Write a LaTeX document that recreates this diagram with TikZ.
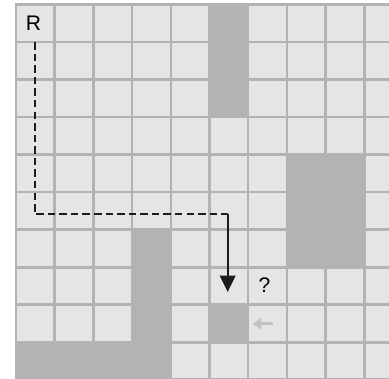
\documentclass[tikz,border=0pt]{standalone}
\usepackage{fontspec}
\setmainfont{Liberation Sans}
\usetikzlibrary{arrows.meta}
\definecolor{cellgray}{HTML}{E5E5E5}
\definecolor{wallgray}{HTML}{B3B3B3}
\definecolor{hintgray}{HTML}{C2C2C2}
\definecolor{pathblack}{HTML}{1C1C1C}

\begin{document}
\begin{tikzpicture}[x=1cm, y=-0.969cm,
    cellbox/.style={fill=cellgray, draw=wallgray, line width=1.9pt},
    wall/.style={fill=wallgray, draw=wallgray, line width=1.9pt},
    lbl/.style={font=\fontsize{15.5}{18}\selectfont, text=black, inner sep=0pt},
    route/.style={pathblack, line width=1.5pt, dash pattern=on 5.5pt off 3pt},
    move/.style={-{Triangle[length=4.2mm, width=4mm]}, pathblack, line width=1.5pt},
    hint/.style={-{Triangle[length=2.2mm, width=3mm]}, hintgray, line width=2pt}]

    \useasboundingbox (-0.413,-0.125) rectangle (9.638,9.98);
    \clip (-0.413,-0.125) rectangle (9.638,9.98);

    % Grid
    \foreach \c in {0,...,9} {
        \foreach \r in {0,...,9} {
            \draw[cellbox] (\c,\r) rectangle ++(1,1);
        }
    }

    % Walls
    \filldraw[wall] (5,0) rectangle (6,3);
    \filldraw[wall] (7,4) rectangle (9,7);
    \filldraw[wall] (3,6) rectangle (4,10);
    \filldraw[wall] (0,9) rectangle (4,10);
    \filldraw[wall] (5,8) rectangle (6,9);

    % Labels
    \node[lbl] (robot) at (0.45,0.49) {R};
    \node[lbl] (query) at (6.42,7.48) {?};

    % Route
    \coordinate (start) at (0.49,1);
    \coordinate (bend) at (0.49,5.59);
    \coordinate (turn) at (5.47,5.59);
    \coordinate (tip) at (5.47,7.66);
    \draw[route] (start) -- (bend) -- (turn);
    \draw[move] (turn) -- (tip);

    % Hint
    \coordinate (hintA) at (6.64,8.51);
    \coordinate (hintB) at (6.12,8.51);
    \draw[hint] (hintA) -- (hintB);
\end{tikzpicture}
\end{document}
